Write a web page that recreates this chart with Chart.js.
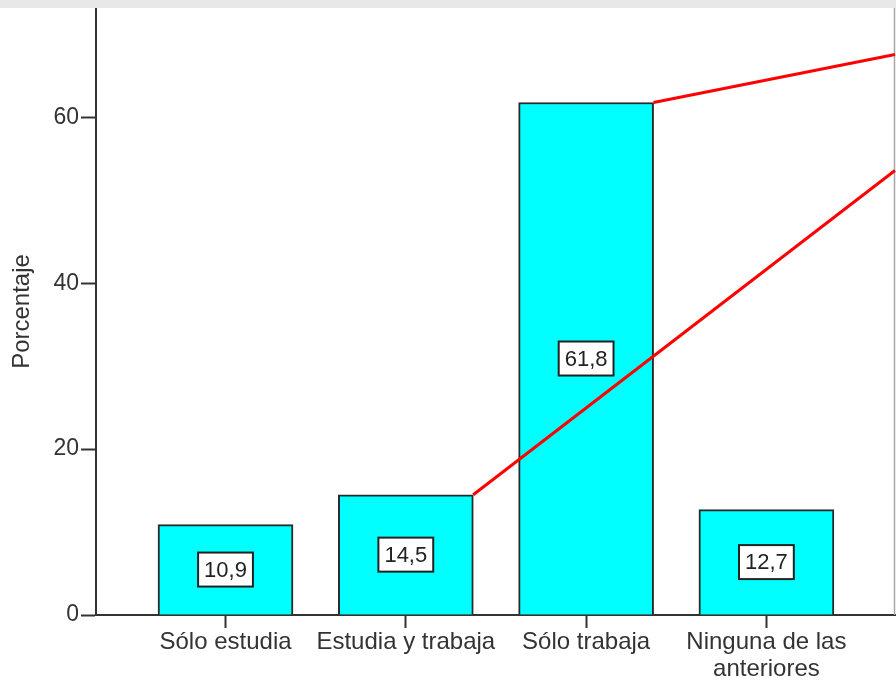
<!DOCTYPE html>
<html>
<head>
<meta charset="utf-8">
<script src="https://cdn.jsdelivr.net/npm/chart.js@4.4.1/dist/chart.umd.min.js"></script>
<style>
html,body{margin:0;padding:0;background:#fff;}
#wrap{position:relative;width:896px;height:694px;}
#band{position:absolute;left:0;top:0;width:896px;height:8px;background:#e8e8e8;}
</style>
</head>
<body>
<div id="wrap">
<canvas id="chart" width="896" height="694"></canvas>
<div id="band"></div>
</div>
<script>
// categories and values (percent)
const categories = ["Sólo estudia", "Estudia y trabaja", "Sólo trabaja", ["Ninguna de las", "anteriores"]];
const percents = [10.9, 14.5, 61.8, 12.7];
const yTicks = [0, 20, 40, 60];

// red connector lines (x in category units, y in percent)
const upperLine = [{x: 3.374, y: 61.8}, {x: 4.713, y: 67.6}];
const lowerLine = [{x: 2.374, y: 14.5}, {x: 4.713, y: 53.6}];

const FONT = "'Liberation Sans', Arial, sans-serif";

/* -------- value boxes inside bars -------- */
const boxLabels = {
id: "boxLabels",
afterDatasetsDraw(chart){
const c = chart.ctx;
const meta = chart.getDatasetMeta(0);
c.save();
c.font = "22px " + FONT;
c.textAlign = "center";
c.textBaseline = "middle";
meta.data.forEach((bar, i) => {
const txt = percents[i].toFixed(1).replace(".", ",");
const w = c.measureText(txt).width + 12;
const h = 34;
const cx = bar.x;
const cy = (bar.y + bar.base) / 2;
c.fillStyle = "#fff";
c.fillRect(cx - w/2, cy - h/2, w, h);
c.strokeStyle = "#222";
c.lineWidth = 2;
c.strokeRect(cx - w/2, cy - h/2, w, h);
c.fillStyle = "#222";
c.fillText(txt, cx, cy + 1);
});
c.restore();
}
};

/* -------- right frame line -------- */
const frame = {
id: "frame",
beforeDatasetsDraw(chart){
const a = chart.chartArea;
const c = chart.ctx;
c.save();
c.strokeStyle = "#a8a8a8";
c.lineWidth = 1.5;
c.beginPath();
c.moveTo(a.right - 0.5, a.top);
c.lineTo(a.right - 0.5, a.bottom);
c.stroke();
c.restore();
}
};

new Chart(document.getElementById("chart"), {
type: "bar",
data: {
datasets: [
{
type: "bar",
data: percents.map((v, i) => ({x: i + 1, y: v})),
backgroundColor: "#00ffff",
borderColor: "#2a2a2a",
borderWidth: 2,
barThickness: 135,
order: 1
},
{
type: "line",
data: upperLine,
borderColor: "#ff0000",
borderWidth: 3,
pointRadius: 0,
clip: false,
order: 0
},
{
type: "line",
data: lowerLine,
borderColor: "#ff0000",
borderWidth: 3,
pointRadius: 0,
clip: false,
order: 0
}
]
},
options: {
responsive: false,
animation: false,
layout: {padding: {top: 8, right: 1, left: 0, bottom: 0}},
plugins: {legend: {display: false}, tooltip: {enabled: false}},
scales: {
x: {
type: "linear",
offset: false,
min: 0.2817,
max: 4.7132,
afterBuildTicks(s){ s.ticks = [1, 2, 3, 4].map(v => ({value: v})); },
afterFit(s){ s.height = 79; s.paddingLeft = 0; s.paddingRight = 0; },
ticks: {
callback: (v) => categories[v - 1],
color: "#333",
font: {family: FONT, size: 24, lineHeight: 1.12},
padding: 1,
maxRotation: 0,
autoSkip: false
},
grid: {offset: false, drawOnChartArea: false, tickLength: 13, tickColor: "#333", tickWidth: 2},
border: {color: "#333", width: 2}
},
y: {
min: 0,
max: 73.2,
afterBuildTicks(s){ s.ticks = yTicks.map(v => ({value: v})); },
afterFit(s){ s.width = 96; s.paddingTop = 0; s.paddingBottom = 0; },
ticks: {
color: "#333",
font: {family: FONT, size: 23},
padding: 2
},
grid: {drawOnChartArea: false, tickLength: 15, tickColor: "#333", tickWidth: 2},
border: {color: "#333", width: 2},
title: {
display: true,
text: "Porcentaje",
color: "#333",
font: {family: FONT, size: 24},
padding: {top: 8, bottom: 0}
}
}
}
},
plugins: [boxLabels, frame]
});
</script>
</body>
</html>
